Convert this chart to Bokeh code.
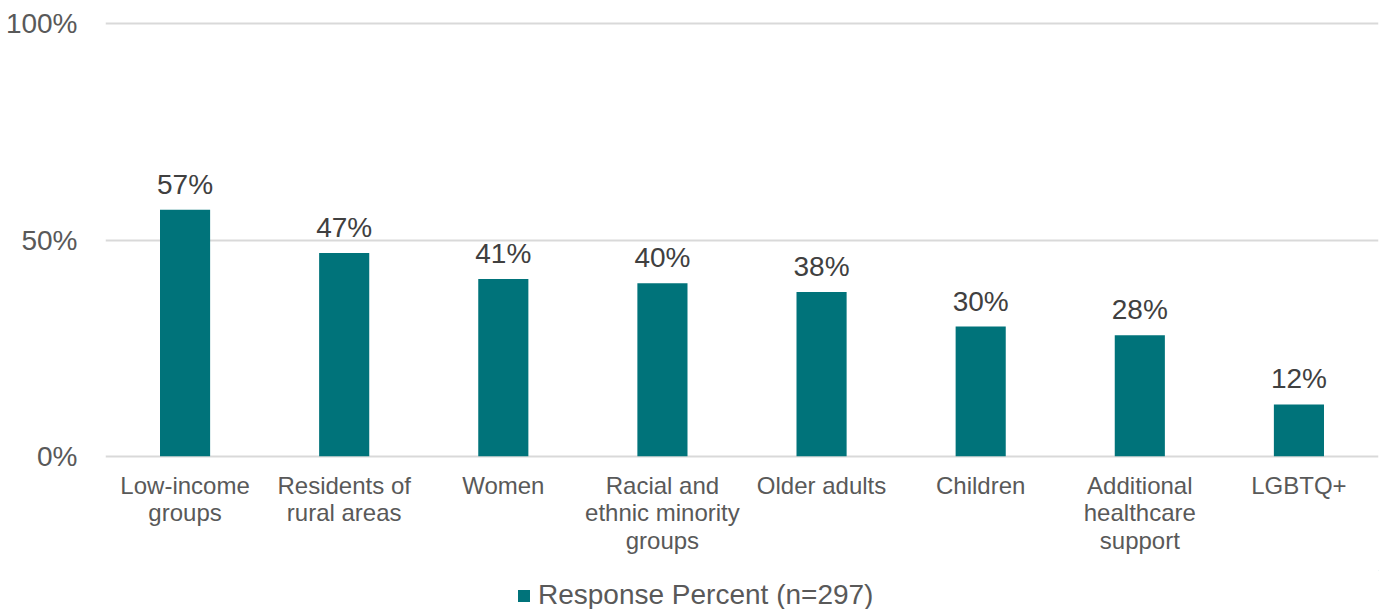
from bokeh.plotting import figure
from bokeh.layouts import column
from bokeh.models import ColumnDataSource, FactorRange, Range1d, LabelSet, Legend, LegendItem, FixedTicker, PrintfTickFormatter
from bokeh.core.properties import value
from bokeh.embed import file_html
from bokeh.resources import INLINE

categories = ["Low-income\ngroups", "Residents of\nrural areas", "Women", "Racial and\nethnic minority\ngroups",
              "Older adults", "Children", "Additional\nhealthcare\nsupport", "LGBTQ+"]
values = [57, 47, 41, 40, 38, 30, 28, 12]
labels = ["57%", "47%", "41%", "40%", "38%", "30%", "28%", "12%"]
series_name = "Response Percent (n=297)"

FONT = "Liberation Sans"
BAR = "#00737A"

src = ColumnDataSource(dict(cat=categories, val=values, lab=labels))

p = figure(width=1385, height=570, x_range=FactorRange(*categories, range_padding=0),
           y_range=Range1d(-0.5, 100.5), output_backend="svg", toolbar_location=None,
           min_border_left=105, min_border_right=7, min_border_top=21, min_border_bottom=112)
p.outline_line_color = None
p.background_fill_color = "white"

r = p.vbar(x="cat", top="val", width=0.315, source=src, fill_color=BAR, line_color=None)

lbl = LabelSet(x="cat", y="val", text="lab", source=src, text_align="center",
               text_baseline="alphabetic", y_offset=16, text_font=value(FONT),
               text_font_size="28px", text_color="#404040")
p.add_layout(lbl)

p.yaxis.ticker = FixedTicker(ticks=[0, 50, 100])
p.yaxis.formatter = PrintfTickFormatter(format="%d%%")
p.yaxis.axis_line_color = None
p.yaxis.major_tick_line_color = None
p.yaxis.minor_tick_line_color = None
p.yaxis.major_label_text_font = FONT
p.yaxis.major_label_text_font_size = "28px"
p.yaxis.major_label_text_color = "#595959"
p.yaxis.major_label_standoff = 22

p.xaxis.axis_line_color = None
p.xaxis.major_tick_line_color = None
p.xaxis.major_label_text_font = FONT
p.xaxis.major_label_text_font_size = "24px"
p.xaxis.major_label_text_color = "#595959"
p.xaxis.major_label_text_line_height = 1.02
p.xaxis.major_label_standoff = 7

p.xgrid.grid_line_color = None
p.ygrid.grid_line_color = "#D9D9D9"
p.ygrid.grid_line_width = 2

# legend strip below the chart
p2 = figure(width=1385, height=39, x_range=Range1d(0, 1), y_range=Range1d(0, 1),
            output_backend="svg", toolbar_location=None,
            x_axis_location=None, y_axis_location=None,
            min_border_left=0, min_border_right=0, min_border_top=0, min_border_bottom=0)
p2.grid.visible = False
p2.outline_line_color = None
r2 = p2.vbar(x=[5], top=[5], bottom=[4], width=0.1, fill_color=BAR, line_color=None)
legend = Legend(items=[LegendItem(label=series_name, renderers=[r2])], orientation="horizontal",
                location=(411, -2), border_line_color=None, background_fill_alpha=0,
                label_text_font=FONT, label_text_font_size="28px", label_text_color="#595959",
                glyph_width=15, glyph_height=15, label_standoff=7, padding=2, margin=0)
p2.add_layout(legend, "center")

open("out.html", "w").write(file_html(column(p, p2, spacing=0), INLINE))
